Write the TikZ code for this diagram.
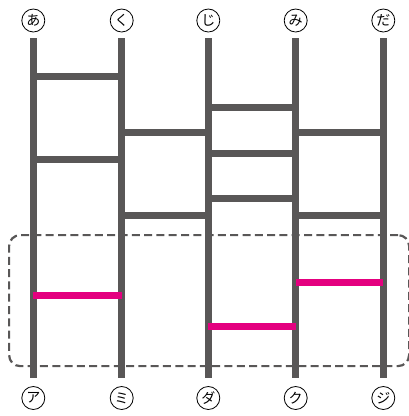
\documentclass[tikz,border=0pt]{standalone}
\usepackage{fontspec}
\newfontfamily\jpfont{Noto Sans CJK JP}
\definecolor{rail}{HTML}{595757}
\definecolor{pinkline}{HTML}{E4007F}
\begin{document}
\begin{tikzpicture}[x=1pt,y=-1pt,
  rail/.style={draw=rail,line width=6.7pt},
  rung/.style={draw=rail,line width=6.7pt},
  hit/.style={draw=pinkline,line width=6.7pt},
  lbl/.style={circle,draw=black,line width=0.8pt,minimum size=23pt,inner sep=0pt,font=\jpfont\fontsize{14}{14}\selectfont},
  zone/.style={draw=rail,line width=2.2pt,dash pattern=on 8pt off 4.3pt,rounded corners=11pt}]
\useasboundingbox (0,0) rectangle (409,416);
% dashed region (behind)
\node[zone,minimum width=400pt,minimum height=131pt,anchor=north west,inner sep=0pt] (zone) at (8,234) {};
% top labels
\node[lbl] (t1) at (33.3,20.5) {あ};
\node[lbl] (t2) at (121.7,20.5) {く};
\node[lbl] (t3) at (208.3,20.5) {じ};
\node[lbl] (t4) at (295.7,20.5) {み};
\node[lbl] (t5) at (383.3,20.5) {だ};
% bottom labels
\node[lbl] (b1) at (33.3,398) {ア};
\node[lbl] (b2) at (121.7,398) {ミ};
\node[lbl] (b3) at (208.3,398) {ダ};
\node[lbl] (b4) at (295.7,398) {ク};
\node[lbl] (b5) at (383.3,398) {ジ};
% rail ends
\foreach \i/\x in {1/33.3,2/121.7,3/208.3,4/295.7,5/383.3}{
  \coordinate (s\i) at (\x,38.3);
  \coordinate (e\i) at (\x,378.3);
}
\foreach \i in {1,...,5}{ \draw[rail] (s\i) -- (e\i); }
% gray rungs
\foreach \a/\b/\y in {1/2/76.7,1/2/159.3,2/3/132.3,2/3/215.3,3/4/107.3,3/4/153.3,3/4/198.3,4/5/132.3,4/5/215.3}{
  \draw[rung] (s\a |- 0,\y) -- (s\b |- 0,\y);
}
% pink rungs
\foreach \a/\b/\y in {1/2/295.7,3/4/326.7,4/5/282.3}{
  \draw[hit] (s\a |- 0,\y) -- (s\b |- 0,\y);
}
\end{tikzpicture}
\end{document}
